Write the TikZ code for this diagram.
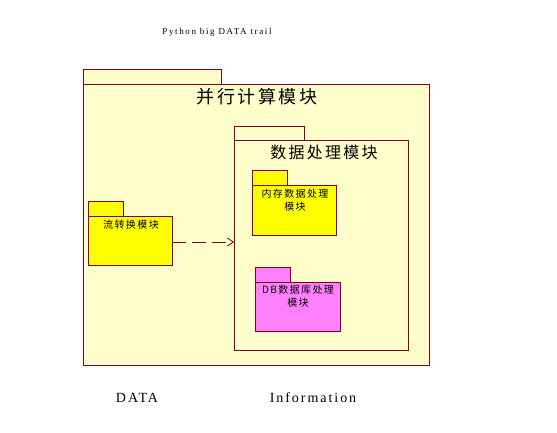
\documentclass[tikz,border=0pt]{standalone}
\usepackage{fontspec}
\setmainfont{Liberation Serif}
\newfontfamily\cjk[LetterSpace=14]{Noto Sans CJK SC}
\newfontfamily\spaced[LetterSpace=14]{Liberation Serif}
\newfontfamily\spacedt[LetterSpace=18]{Liberation Serif}
\usetikzlibrary{arrows.meta}
\definecolor{pkgline}{HTML}{800020}
\definecolor{pkgbg}{HTML}{FFFFCC}
\definecolor{pkgyel}{HTML}{FFFF00}
\definecolor{pkgmag}{HTML}{FF80FF}
\begin{document}
\begin{tikzpicture}[x=1pt,y=-1pt,
  box/.style={draw=pkgline,line width=0.9pt,anchor=north west,inner sep=0pt,outer sep=0pt},
  lbl/.style={inner sep=0pt,font=\cjk}]
\useasboundingbox[fill=white] (0,0) rectangle (557,433);
% outer package
\node[box,fill=pkgbg,minimum width=138pt,minimum height=15pt] (otab) at (83,69) {};
\node[box,fill=pkgbg,minimum width=346pt,minimum height=281pt] (outer) at (83,84) {};
\node[lbl,font=\cjk\fontsize{18}{18}\selectfont] (ot) at (257,97) {并行计算模块};
% inner package
\node[box,fill=pkgbg,minimum width=70pt,minimum height=14pt] (itab) at (234,126) {};
\node[box,fill=pkgbg,minimum width=174pt,minimum height=210pt] (inner) at (234,140) {};
\node[lbl,font=\cjk\fontsize{16}{16}\selectfont] (it) at (324,152) {数据处理模块};
% stream module
\node[box,fill=pkgyel,minimum width=35pt,minimum height=15pt] (stab) at (88,201) {};
\node[box,fill=pkgyel,minimum width=84pt,minimum height=49pt] (stream) at (88,216) {};
\node[lbl,font=\cjk\fontsize{10}{10}\selectfont] (st) at (131,225) {流转换模块};
% memory module
\node[box,fill=pkgyel,minimum width=35pt,minimum height=15pt] (mtab) at (252,170) {};
\node[box,fill=pkgyel,minimum width=84pt,minimum height=50pt] (mem) at (252,185) {};
\node[lbl,font=\cjk\fontsize{10}{10}\selectfont,align=center] (mt) at (295,200) {内存数据处理\\[3pt]模块};
% db module
\node[box,fill=pkgmag,minimum width=35pt,minimum height=15pt] (dtab) at (255,267) {};
\node[box,fill=pkgmag,minimum width=85pt,minimum height=49pt] (db) at (255,282) {};
\node[lbl,font=\cjk\fontsize{10}{10}\selectfont,align=center] (dt) at (298,296) {DB数据库处理\\[3pt]模块};
% dependency
\draw[pkgline,line width=0.8pt,dash pattern=on 14pt off 6pt,-{Straight Barb[length=6pt,width=8pt]}] (stream.east |- 0,242) -- (inner.west |- 0,242);
% texts
\node[inner sep=0pt,font=\spacedt\fontsize{9}{9}\selectfont] (title) at (217,32) {Python big DATA trail};
\node[inner sep=0pt,font=\spaced\fontsize{14}{14}\selectfont] (data) at (137,398) {DATA};
\node[inner sep=0pt,font=\spaced\fontsize{14}{14}\selectfont] (info) at (313,398) {Information};
\end{tikzpicture}
\end{document}
